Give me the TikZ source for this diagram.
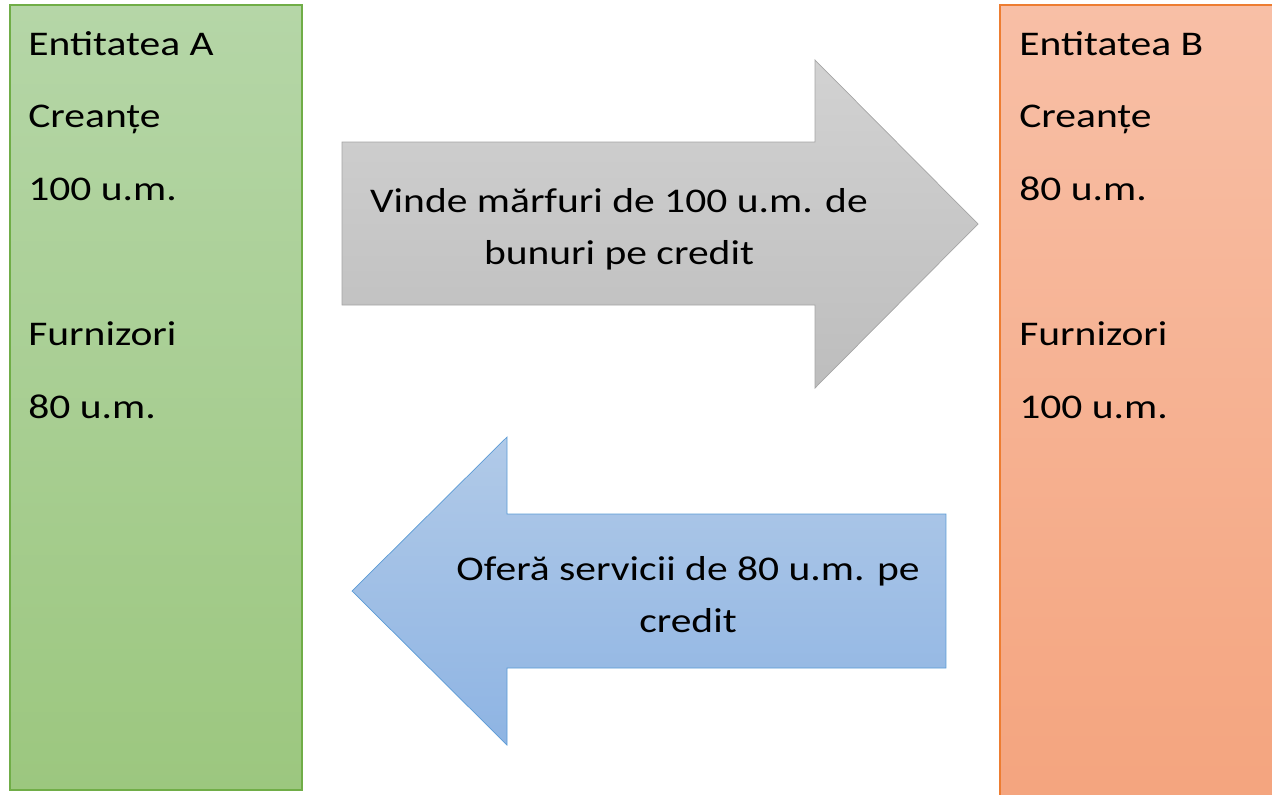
\documentclass[tikz,border=0pt]{standalone}
\usepackage{fontspec}
\setmainfont{Carlito}[FakeStretch=1.2]

\definecolor{greenfillA}{HTML}{B5D6A7}
\definecolor{greenfillB}{HTML}{9CC77F}
\definecolor{greenline}{HTML}{70AD47}
\definecolor{orangefillA}{HTML}{F8BFA6}
\definecolor{orangefillB}{HTML}{F4A47E}
\definecolor{orangeline}{HTML}{ED7D31}
\definecolor{grayfillA}{HTML}{D2D2D2}
\definecolor{grayfillB}{HTML}{BDBDBD}
\definecolor{grayline}{HTML}{A5A5A5}
\definecolor{bluefillA}{HTML}{B1CAE8}
\definecolor{bluefillB}{HTML}{8EB4E3}
\definecolor{blueline}{HTML}{5B9BD5}

\tikzset{
  boxtext/.style={inner sep=0pt, align=left, font=\fontsize{19.7}{41.3}\selectfont},
  arrowtext/.style={inner sep=0pt, align=center, font=\fontsize{19.7}{29.6}\selectfont}
}

\begin{document}
\begin{tikzpicture}[x=0.02cm, y=-0.02cm]
        \useasboundingbox (0,0) rectangle (1272,795);

        % Entities
        \draw[greenline, thick, top color=greenfillA, bottom color=greenfillB] (10,5) rectangle (302,790);
        \draw[orangeline, thick, top color=orangefillA, bottom color=orangefillB] (1000,5) rectangle (1290,810);

        % Arrows
        \draw[grayline, top color=grayfillA, bottom color=grayfillB]
          (342,142) -- (815,142) -- (815,60) -- (978,224) -- (815,388) -- (815,305) -- (342,305) -- cycle;
        \draw[blueline, top color=bluefillA, bottom color=bluefillB]
          (946,514) -- (507,514) -- (507,437) -- (352,591) -- (507,745) -- (507,668) -- (946,668) -- cycle;

        % Labels
        \node[boxtext, anchor=base west] (entA) at (28,418)
          {Entitatea A\\Creanțe\\100 u.m.\\[41.3pt]Furnizori\\80 u.m.};
        \node[boxtext, anchor=base west] (entB) at (1019,418)
          {Entitatea B\\Creanțe\\80 u.m.\\[41.3pt]Furnizori\\100 u.m.};
        \node[arrowtext, anchor=base] (sale) at (619,264)
          {Vinde mărfuri de 100 u.m. de\\bunuri pe credit};
        \node[arrowtext, anchor=base] (service) at (688,632)
          {Oferă servicii de 80 u.m. pe\\credit};
      \end{tikzpicture}
\end{document}
